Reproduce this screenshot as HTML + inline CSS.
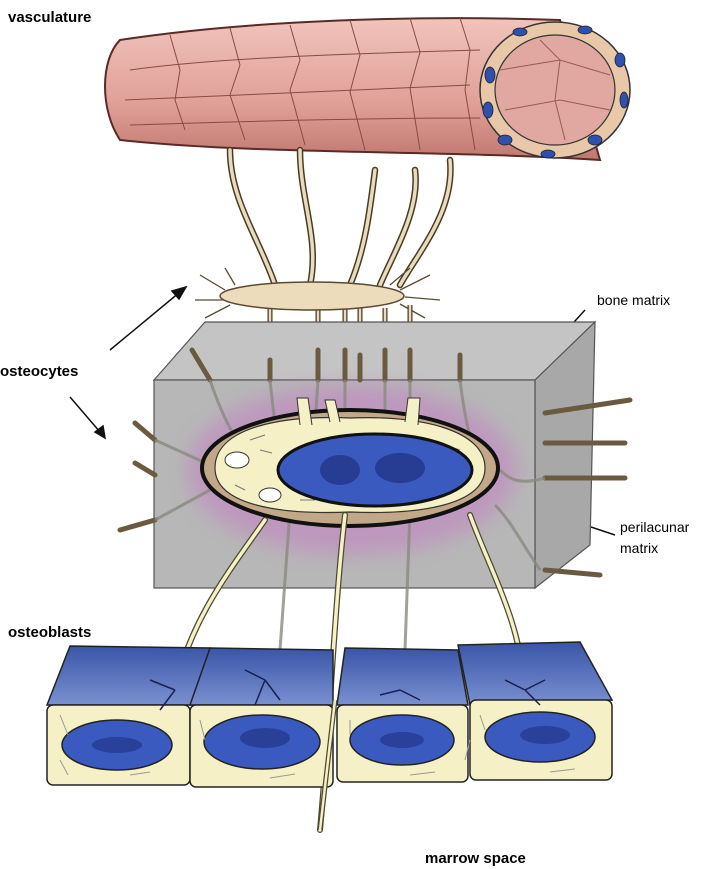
<!DOCTYPE html>
<html><head><meta charset="utf-8"><style>
html,body{margin:0;padding:0;background:#fff;}
svg{display:block;}
text{font-family:"Liberation Sans",Arial,sans-serif;}
</style></head><body>
<svg width="720" height="869" viewBox="0 0 720 869" xmlns="http://www.w3.org/2000/svg">
<defs>
<filter id="blur"><feGaussianBlur stdDeviation="10"/></filter>
<linearGradient id="vess" x1="0" y1="0" x2="0" y2="1">
<stop offset="0" stop-color="#f0c4bc"/><stop offset="0.6" stop-color="#e0a098"/><stop offset="1" stop-color="#c07870"/></linearGradient>
<linearGradient id="btop" x1="0" y1="0" x2="0" y2="1">
<stop offset="0" stop-color="#3a55a8"/><stop offset="1" stop-color="#7a90d0"/></linearGradient>
</defs>

<text x="8" y="22" font-size="15" font-weight="bold">vasculature</text>

<!-- vessel -->
<path d="M120,40 C250,20 420,15 560,20 L600,160 C450,150 260,155 120,140 C100,110 100,60 120,40 Z" fill="url(#vess)" stroke="#5a2a28" stroke-width="2"/>
<g stroke="#8a4a44" stroke-width="1" fill="none">
<path d="M130,70 C200,60 300,55 480,50"/><path d="M125,100 C220,95 330,90 470,85"/><path d="M130,125 C230,122 350,118 480,118"/>
<path d="M170,35 L180,70 L175,100 L185,130"/><path d="M230,28 L240,65 L230,95 L245,140"/><path d="M290,25 L300,60 L290,90 L305,145"/>
<path d="M350,20 L360,55 L350,92 L365,150"/><path d="M410,18 L420,52 L410,88 L420,150"/><path d="M460,18 L470,50 L465,90 L475,150"/>
</g>
<ellipse cx="555" cy="90" rx="75" ry="68" fill="#e8c8a8" stroke="#333" stroke-width="1.5"/>
<ellipse cx="555" cy="90" rx="60" ry="55" fill="#e0a8a0" stroke="#333" stroke-width="1.2"/>
<g stroke="#9a5a54" stroke-width="1" fill="none"><path d="M500,70 L560,60 L610,75 M505,110 L560,100 L610,110 M540,40 L560,60 L555,100 L565,140"/></g>
<g fill="#3050b0" stroke="#222" stroke-width="0.8">
<ellipse cx="490" cy="75" rx="5" ry="8"/><ellipse cx="488" cy="110" rx="5" ry="8"/><ellipse cx="505" cy="140" rx="7" ry="5"/>
<ellipse cx="548" cy="154" rx="7" ry="4"/><ellipse cx="595" cy="140" rx="7" ry="5"/><ellipse cx="624" cy="100" rx="4" ry="8"/>
<ellipse cx="620" cy="60" rx="5" ry="7"/><ellipse cx="585" cy="30" rx="7" ry="4"/><ellipse cx="520" cy="32" rx="7" ry="4"/>
</g>

<!-- processes vessel to osteocyte -->
<g stroke="#4a3a20" stroke-width="6.5" fill="none" stroke-linecap="round">
<path d="M230,150 C230,200 260,240 275,285"/><path d="M300,150 C300,200 320,240 310,285"/><path d="M375,170 C370,210 365,250 350,285"/>
<path d="M415,170 C420,210 395,250 380,285"/><path d="M450,160 C455,210 420,250 400,285"/>
</g>
<g stroke="#e8dcc0" stroke-width="3.5" fill="none" stroke-linecap="round">
<path d="M230,150 C230,200 260,240 275,285"/><path d="M300,150 C300,200 320,240 310,285"/><path d="M375,170 C370,210 365,250 350,285"/>
<path d="M415,170 C420,210 395,250 380,285"/><path d="M450,160 C455,210 420,250 400,285"/>
</g>
<!-- top osteocyte -->
<g stroke="#5a4a30" stroke-width="1.3" fill="none">
<path d="M225,290 L200,275 M225,300 L195,300 M230,305 L205,318 M400,290 L430,275 M405,297 L440,300 M400,304 L425,318 M235,285 L225,268 M390,285 L410,268"/>
</g>
<g stroke="#4a3a20" stroke-width="5" fill="none"><path d="M270,305 L270,360 M318,308 L318,350 M345,308 L345,350 M360,308 L360,355 M385,308 L385,350 M410,305 L410,350"/></g>
<g stroke="#e8dcc0" stroke-width="2.5" fill="none"><path d="M270,305 L270,360 M318,308 L318,350 M345,308 L345,350 M360,308 L360,355 M385,308 L385,350 M410,305 L410,350"/></g>
<ellipse cx="312" cy="296" rx="92" ry="14" fill="#ecdcbc" stroke="#5a4a30" stroke-width="1.5"/>

<text x="0" y="376" font-size="15" font-weight="bold">osteocytes</text>
<g stroke="#111" stroke-width="1.5" fill="#111">
<line x1="110" y1="350" x2="180" y2="292"/><polygon points="186,287 172,291 179,299"/>
<line x1="70" y1="397" x2="100" y2="432"/><polygon points="105,438 95,432 103,426"/>
<line x1="585" y1="310" x2="535" y2="365"/><circle cx="534" cy="366" r="3"/>
<line x1="510" y1="500" x2="615" y2="535"/><circle cx="510" cy="500" r="3"/>
</g>
<text x="597" y="305" font-size="14">bone matrix</text>
<text x="620" y="532" font-size="14">perilacunar</text>
<text x="620" y="553" font-size="14">matrix</text>

<!-- bone block -->
<polygon points="154,380 205,322 595,322 535,380" fill="#c4c4c4" stroke="#555" stroke-width="1.2"/>
<polygon points="535,380 595,322 590,545 535,588" fill="#a8a8a8" stroke="#555" stroke-width="1.2"/>
<rect x="154" y="380" width="381" height="208" fill="#b7b7b7" stroke="#555" stroke-width="1.2"/>
<ellipse cx="352" cy="470" rx="165" ry="85" fill="#c090c0" opacity="0.8" filter="url(#blur)"/>
<!-- side canaliculi -->
<g stroke="#6a5a40" stroke-width="5" stroke-linecap="round" fill="none">
<path d="M135,423 L155,440"/><path d="M135,463 L155,475"/><path d="M120,530 L155,520"/>
<path d="M545,413 L630,400"/><path d="M545,443 L625,443"/><path d="M545,478 L625,478"/><path d="M545,570 L600,575"/>
<path d="M192,350 L210,380"/><path d="M270,360 L270,380"/><path d="M318,350 L318,380"/><path d="M345,350 L345,380"/><path d="M360,355 L360,380"/><path d="M385,350 L385,380"/><path d="M410,350 L410,380"/><path d="M460,355 L460,380"/>
</g>
<g stroke="#8a8a80" stroke-width="3" fill="none" opacity="0.8">
<path d="M210,380 C220,410 230,430 240,445"/><path d="M270,380 L275,425"/><path d="M318,380 L315,425"/><path d="M345,380 L345,425"/><path d="M385,380 L385,425"/><path d="M410,380 L410,425"/><path d="M460,380 C465,420 470,440 475,450"/>
<path d="M155,440 L210,465"/><path d="M155,520 L210,490"/><path d="M545,478 C520,485 510,480 500,470"/><path d="M540,570 C520,540 510,520 495,505"/>
<path d="M290,510 L280,650"/><path d="M410,510 L405,650"/>
</g>
<!-- lacuna -->
<ellipse cx="350" cy="468" rx="148" ry="58" fill="#c2a888" stroke="#111" stroke-width="4"/>
<path d="M215,468 C215,425 290,415 350,418 C420,415 485,430 485,468 C485,505 420,515 350,512 C280,515 215,505 215,468 Z" fill="#f6f0c6" stroke="#333" stroke-width="1.2"/>
<g stroke="#333" stroke-width="1" fill="#f6f0c6">
<path d="M300,425 L297,398 L308,398 L312,425"/><path d="M330,422 L325,400 L335,400 L340,422"/><path d="M405,422 L408,398 L420,398 L418,425"/>
</g>
<g stroke="#777" stroke-width="1" fill="none"><path d="M250,440 l15,-5 M260,450 l12,3 M445,445 l15,5 M455,470 l10,8 M300,500 l15,0 M420,500 l15,-3 M235,485 l10,5"/></g>
<ellipse cx="375" cy="470" rx="97" ry="36" fill="#3a5ac0" stroke="#111" stroke-width="3"/>
<ellipse cx="340" cy="470" rx="20" ry="15" fill="#1e3080" opacity="0.7"/><ellipse cx="400" cy="468" rx="25" ry="15" fill="#1e3080" opacity="0.7"/>
<g fill="#fff" stroke="#333"><ellipse cx="237" cy="460" rx="12" ry="8"/><ellipse cx="270" cy="495" rx="11" ry="7"/></g>
<!-- lower processes -->
<g stroke="#4a4a30" stroke-width="6" fill="none" stroke-linecap="round">
<path d="M265,520 C230,570 190,620 175,690"/><path d="M345,515 C335,600 330,720 320,830"/><path d="M470,515 C490,570 520,620 525,690"/>
</g>
<g stroke="#f6f0c6" stroke-width="3.5" fill="none" stroke-linecap="round">
<path d="M265,520 C230,570 190,620 175,690"/><path d="M345,515 C335,600 330,720 320,830"/><path d="M470,515 C490,570 520,620 525,690"/>
</g>

<text x="8" y="637" font-size="15" font-weight="bold">osteoblasts</text>

<!-- osteoblast blocks -->
<g stroke="#222" stroke-width="1.5">
<polygon points="70,646 210,648 208,705 47,705" fill="url(#btop)"/>
<rect x="47" y="705" width="143" height="80" rx="6" fill="#f6f0c6"/>
<ellipse cx="117" cy="745" rx="55" ry="25" fill="#3a5ac0"/>
<polygon points="210,648 333,650 333,705 190,705" fill="url(#btop)"/>
<rect x="190" y="705" width="143" height="82" rx="6" fill="#f6f0c6"/>
<ellipse cx="262" cy="742" rx="58" ry="27" fill="#3a5ac0"/>
<polygon points="345,648 458,650 468,705 337,705" fill="url(#btop)"/>
<rect x="337" y="705" width="131" height="77" rx="6" fill="#f6f0c6"/>
<ellipse cx="402" cy="740" rx="52" ry="25" fill="#3a5ac0"/>
<polygon points="458,645 580,642 612,700 470,705" fill="url(#btop)"/>
<rect x="470" y="700" width="142" height="80" rx="6" fill="#f6f0c6"/>
<ellipse cx="540" cy="737" rx="55" ry="25" fill="#3a5ac0"/>
</g>
<g fill="#1e3080" opacity="0.6"><ellipse cx="117" cy="745" rx="25" ry="8"/><ellipse cx="265" cy="738" rx="25" ry="10"/><ellipse cx="402" cy="740" rx="22" ry="8"/><ellipse cx="545" cy="735" rx="25" ry="9"/></g>
<g stroke="#999" stroke-width="1" fill="none"><path d="M60,715 l8,20 M60,760 l8,15 M200,720 l5,20 M470,740 l-5,20 M350,720 l0,15 M480,715 l5,15 M130,775 l20,-3 M270,778 l25,-4 M410,775 l25,-3 M550,772 l25,-3"/></g>
<!-- redraw middle process over blocks -->
<path d="M335,700 L320,830" stroke="#4a4a30" stroke-width="5" fill="none"/>
<path d="M335,700 L320,830" stroke="#f6f0c6" stroke-width="2.5" fill="none"/>
<g stroke="#1a2050" stroke-width="1.5" fill="none">
<path d="M175,690 L150,680 M175,690 L160,710 M265,680 L245,670 M265,680 L280,700 M265,680 L255,705 M400,690 L380,695 M400,690 L420,700 M525,690 L505,680 M525,690 L545,680 M525,690 L540,705"/>
</g>

<text x="425" y="863" font-size="15" font-weight="bold">marrow space</text>
</svg>
</body></html>
